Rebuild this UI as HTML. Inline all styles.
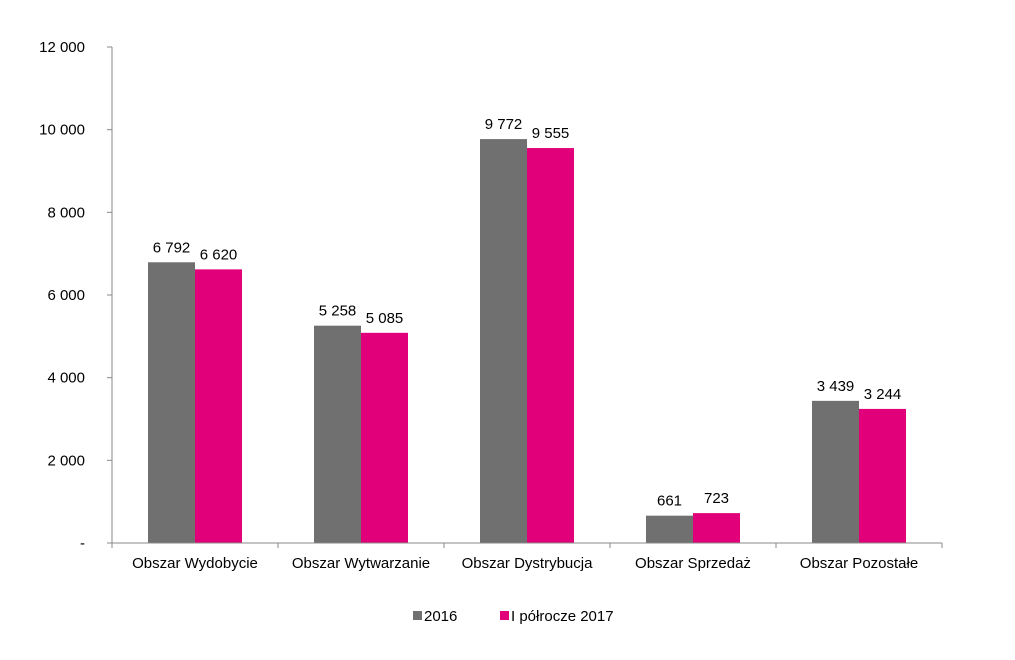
<!DOCTYPE html>
<html><head><meta charset="utf-8"><style>
body{margin:0;background:#fff;}
svg text{font-family:"Liberation Sans",Arial,sans-serif;font-size:15px;fill:#000;}
</style></head><body>
<svg id="chart" width="1015" height="655" xmlns="http://www.w3.org/2000/svg"></svg>
<script>
const categories=["Obszar Wydobycie","Obszar Wytwarzanie","Obszar Dystrybucja","Obszar Sprzedaż","Obszar Pozostałe"];
const series2016=[6792,5258,9772,661,3439];
const series2017=[6620,5085,9555,723,3244];
const labels2016=["6 792","5 258","9 772","661","3 439"];
const labels2017=["6 620","5 085","9 555","723","3 244"];
const tickValues=[0,2000,4000,6000,8000,10000,12000];
const tickLabels=["-","2 000","4 000","6 000","8 000","10 000","12 000"];
const seriesNames=["2016","I półrocze 2017"];
const colors=["#707070","#E2007A"];
const svg=document.getElementById('chart');
const NS="http://www.w3.org/2000/svg";
const x0=112,x1=942,y0=543,yTop=47,yMax=12000;
const y=v=>y0-(v/yMax)*(y0-yTop);
const band=(x1-x0)/categories.length;
const bw=47;
function mk(t,a,txt){const e=document.createElementNS(NS,t);for(const k in a)e.setAttribute(k,a[k]);if(txt!=null)e.textContent=txt;svg.appendChild(e);return e;}
let e;
e=mk('line',{x1:x0,y1:yTop,x2:x0,y2:y0,stroke:'#888','stroke-width':1});


tickValues.forEach((v,i)=>{
 e=mk('line',{x1:x0-5,y1:y(v),x2:x0,y2:y(v),stroke:'#888'});
 
 
 e=mk('text',{x:85,y:y(v)+5,'text-anchor':'end'},tickLabels[i]);
 
 
});
categories.forEach((c,i)=>{
 const cx=x0+band*(i+0.5);
 e=mk('rect',{x:cx-bw,y:y(series2016[i]),width:bw,height:y0-y(series2016[i]),fill:colors[0]});
 
 
 e=mk('rect',{x:cx,y:y(series2017[i]),width:bw,height:y0-y(series2017[i]),fill:colors[1]});
 
 
 e=mk('text',{x:cx-bw/2,y:y(series2016[i])-10,'text-anchor':'middle'},labels2016[i]);
 
 
 e=mk('text',{x:cx+bw/2,y:y(series2017[i])-10,'text-anchor':'middle'},labels2017[i]);
 
 
 e=mk('text',{x:cx,y:568,'text-anchor':'middle'},c);
 
 
});
for(let i=0;i<=categories.length;i++){
 e=mk('line',{x1:x0+band*i,y1:y0,x2:x0+band*i,y2:y0+5,stroke:'#888'});
 
 
}
e=mk('line',{x1:x0,y1:y0,x2:x1,y2:y0,stroke:'#888'});


const lx=[413,500];
seriesNames.forEach((n,i)=>{
 e=mk('rect',{x:lx[i],y:611,width:9,height:9,fill:colors[i]});
 
 
 e=mk('text',{x:lx[i]+11,y:621},n);
 
 
});
</script>
</body></html>
